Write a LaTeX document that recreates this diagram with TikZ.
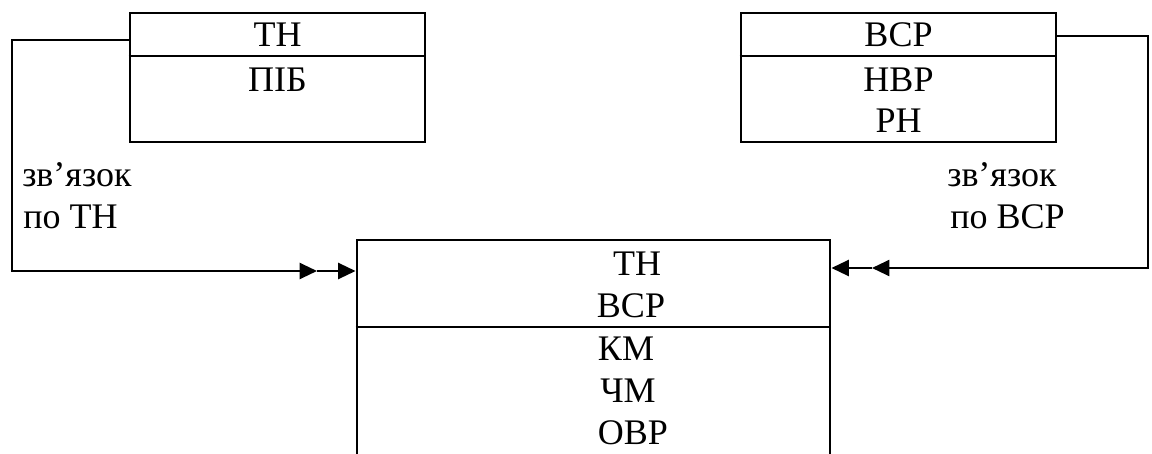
\documentclass[tikz,border=0pt]{standalone}
\usepackage{fontspec}
\setmainfont{Liberation Serif}
\usetikzlibrary{arrows.meta,fit}
\begin{document}
\begin{tikzpicture}[x=0.75pt,y=-0.75pt,
  box/.style={draw,line width=2.2pt,inner sep=0pt},
  divider/.style={line width=2.2pt},
  conn/.style={line width=1.6pt},
  tip/.style={-{Triangle[length=13pt,width=12pt]}},
  txt/.style={anchor=base,inner sep=0pt,font=\fontsize{27}{31}\selectfont},
  lbl/.style={anchor=base west,inner sep=0pt,font=\fontsize{27}{31}\selectfont}]
\useasboundingbox (0,0) rectangle (1152,453);
\clip (0,0) rectangle (1152,453);
% boxes
\node[box,fit={(130,13) (425,142)}] (tn) {};
\node[box,fit={(741,13) (1056,142)}] (vsr) {};
\node[box,fit={(357,240) (830,470)}] (main) {};
\coordinate (d1) at (0,56);
\coordinate (d2) at (0,327);
\draw[divider] (tn.west|-d1) -- (tn.east|-d1);
\draw[divider] (vsr.west|-d1) -- (vsr.east|-d1);
\draw[divider] (main.west|-d2) -- (main.east|-d2);
% texts
\node[txt] (t1) at (277.5,47) {ТН};
\node[txt] (t2) at (277.5,91) {ПІБ};
\node[txt] (v1) at (898.5,47) {ВСР};
\node[txt] (v2) at (898.5,92) {НВР};
\node[txt] (v3) at (898.5,132) {РН};
\node[txt] (m1) at (637,275) {ТН};
\node[txt] (m2) at (631,317) {ВСР};
\node[txt] (m3) at (626,360) {КМ};
\node[txt] (m4) at (628,402) {ЧМ};
\node[txt] (m5) at (633,444) {ОВР};
\node[lbl] (la1) at (22,186) {зв’язок};
\node[lbl] (la2) at (23,228) {по ТН};
\node[lbl] (ra1) at (947,186) {зв’язок};
\node[lbl] (ra2) at (950,228) {по ВСР};
% connectors
\coordinate (l1) at (12,40);
\coordinate (la) at (317,271);
\draw[conn,tip] (tn.west|-l1) -- (l1) |- (la);
\draw[conn,tip] (la) -- (main.west|-la);
\coordinate (r1) at (1148,36);
\coordinate (ra) at (872,268);
\draw[conn,tip] (vsr.east|-r1) -- (r1) |- (ra);
\draw[conn,tip] (ra) -- (main.east|-ra);
\end{tikzpicture}
\end{document}
